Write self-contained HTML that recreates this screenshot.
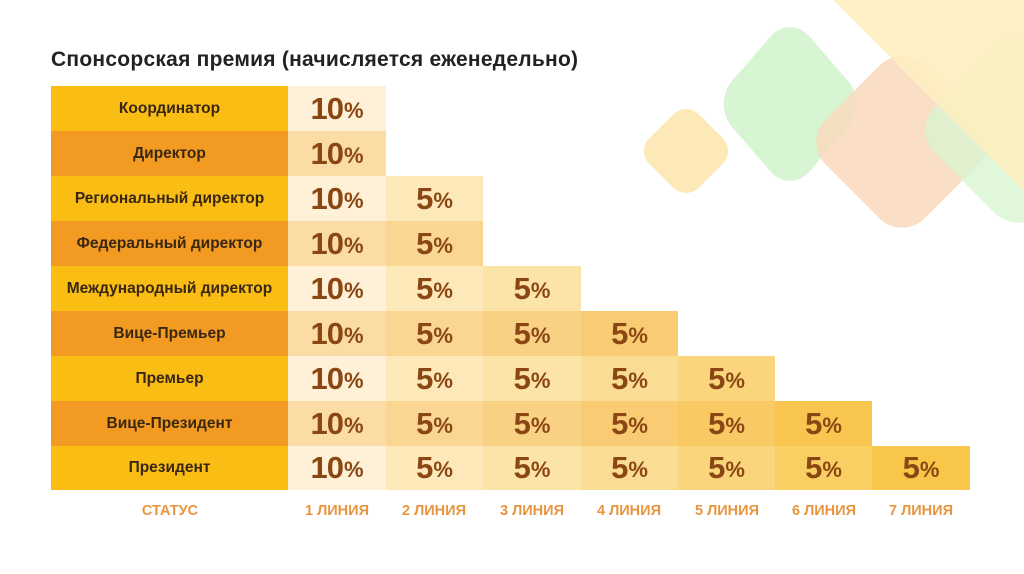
<!DOCTYPE html>
<html><head><meta charset="utf-8">
<style>
html,body{margin:0;padding:0;}
body{width:1024px;height:574px;position:relative;overflow:hidden;background:#fff;font-family:"Liberation Sans","Noto Sans CJK SC",sans-serif;}
.bg{position:absolute;left:0;top:0;}
.title{position:absolute;left:51px;top:48px;font-size:21px;font-weight:bold;color:#222;white-space:nowrap;letter-spacing:0.25px;}
.lab{position:absolute;left:51px;width:237px;display:flex;align-items:center;justify-content:center;font-size:15.5px;font-weight:bold;color:#3a2712;white-space:nowrap;}
.cell{position:absolute;display:flex;align-items:center;justify-content:center;color:#8a4613;font-weight:bold;white-space:nowrap;}
.cell .n{font-size:31px;letter-spacing:-1px;}
.cell .p{font-size:22px;margin-left:1px;margin-top:4px;}
.ft{position:absolute;top:503px;font-size:14.5px;font-weight:bold;color:#e9953f;text-align:center;white-space:nowrap;}
</style></head><body>
<svg class="bg" width="1024" height="574" viewBox="0 0 1024 574">
  <rect x="-35" y="-35" width="70" height="70" rx="18" fill="#fde6b0" opacity="0.9" transform="translate(686,151) rotate(45)"/>
  <rect x="-55" y="-55" width="110" height="110" rx="28" fill="#d7f4d3" transform="translate(790,104) scale(1,1.16) rotate(45)"/>
  <rect x="-70" y="-70" width="140" height="140" rx="32" fill="#f9d9bc" opacity="0.85" transform="translate(902,142) rotate(45)"/>
  <rect x="-75" y="-75" width="150" height="150" rx="32" fill="#d7f4d0" opacity="0.75" transform="translate(1018,130) rotate(45)"/>
  <rect x="-217" y="-217" width="434" height="434" rx="40" fill="#fdeebf" opacity="0.9" transform="translate(1100,-40) rotate(45)"/>
</svg>
<div class="title">Спонсорская премия (начисляется еженедельно)</div>
<div class="ft" style="left:120px;width:100px;">СТАТУС</div>
<div class="ft" style="left:288px;width:98px;">1 ЛИНИЯ</div>
<div class="ft" style="left:385px;width:98px;">2 ЛИНИЯ</div>
<div class="ft" style="left:483px;width:98px;">3 ЛИНИЯ</div>
<div class="ft" style="left:580px;width:98px;">4 ЛИНИЯ</div>
<div class="ft" style="left:678px;width:98px;">5 ЛИНИЯ</div>
<div class="ft" style="left:775px;width:98px;">6 ЛИНИЯ</div>
<div class="ft" style="left:872px;width:98px;">7 ЛИНИЯ</div>

<div class="lab" style="top:86px;height:45px;background:#f9bd14;">Координатор</div>
<div class="lab" style="top:131px;height:45px;background:#f29a22;">Директор</div>
<div class="lab" style="top:176px;height:45px;background:#f9bd14;">Региональный директор</div>
<div class="lab" style="top:221px;height:45px;background:#f29a22;">Федеральный директор</div>
<div class="lab" style="top:266px;height:45px;background:#f9bd14;">Международный директор</div>
<div class="lab" style="top:311px;height:45px;background:#f29a22;">Вице-Премьер</div>
<div class="lab" style="top:356px;height:45px;background:#f9bd14;">Премьер</div>
<div class="lab" style="top:401px;height:45px;background:#f29a22;">Вице-Президент</div>
<div class="lab" style="top:446px;height:44px;background:#f9bd14;">Президент</div>

<div class="cell" style="top:86px;height:45px;left:288px;width:98px;background:#fef1d7;"><span class="n">10</span><span class="p">%</span></div>
<div class="cell" style="top:131px;height:45px;left:288px;width:98px;background:#fbdca4;"><span class="n">10</span><span class="p">%</span></div>
<div class="cell" style="top:176px;height:45px;left:288px;width:98px;background:#fef1d7;"><span class="n">10</span><span class="p">%</span></div>
<div class="cell" style="top:176px;height:45px;left:386px;width:97px;background:#fde8ba;"><span class="n">5</span><span class="p">%</span></div>
<div class="cell" style="top:221px;height:45px;left:288px;width:98px;background:#fbdca4;"><span class="n">10</span><span class="p">%</span></div>
<div class="cell" style="top:221px;height:45px;left:386px;width:97px;background:#fad692;"><span class="n">5</span><span class="p">%</span></div>
<div class="cell" style="top:266px;height:45px;left:288px;width:98px;background:#fef1d7;"><span class="n">10</span><span class="p">%</span></div>
<div class="cell" style="top:266px;height:45px;left:386px;width:97px;background:#fde8ba;"><span class="n">5</span><span class="p">%</span></div>
<div class="cell" style="top:266px;height:45px;left:483px;width:98px;background:#fce3a8;"><span class="n">5</span><span class="p">%</span></div>
<div class="cell" style="top:311px;height:45px;left:288px;width:98px;background:#fbdca4;"><span class="n">10</span><span class="p">%</span></div>
<div class="cell" style="top:311px;height:45px;left:386px;width:97px;background:#fad692;"><span class="n">5</span><span class="p">%</span></div>
<div class="cell" style="top:311px;height:45px;left:483px;width:98px;background:#f9d184;"><span class="n">5</span><span class="p">%</span></div>
<div class="cell" style="top:311px;height:45px;left:581px;width:97px;background:#f9cc74;"><span class="n">5</span><span class="p">%</span></div>
<div class="cell" style="top:356px;height:45px;left:288px;width:98px;background:#fef1d7;"><span class="n">10</span><span class="p">%</span></div>
<div class="cell" style="top:356px;height:45px;left:386px;width:97px;background:#fde8ba;"><span class="n">5</span><span class="p">%</span></div>
<div class="cell" style="top:356px;height:45px;left:483px;width:98px;background:#fce3a8;"><span class="n">5</span><span class="p">%</span></div>
<div class="cell" style="top:356px;height:45px;left:581px;width:97px;background:#fbdc93;"><span class="n">5</span><span class="p">%</span></div>
<div class="cell" style="top:356px;height:45px;left:678px;width:97px;background:#fad57c;"><span class="n">5</span><span class="p">%</span></div>
<div class="cell" style="top:401px;height:45px;left:288px;width:98px;background:#fbdca4;"><span class="n">10</span><span class="p">%</span></div>
<div class="cell" style="top:401px;height:45px;left:386px;width:97px;background:#fad692;"><span class="n">5</span><span class="p">%</span></div>
<div class="cell" style="top:401px;height:45px;left:483px;width:98px;background:#f9d184;"><span class="n">5</span><span class="p">%</span></div>
<div class="cell" style="top:401px;height:45px;left:581px;width:97px;background:#f9cc74;"><span class="n">5</span><span class="p">%</span></div>
<div class="cell" style="top:401px;height:45px;left:678px;width:97px;background:#f9ca64;"><span class="n">5</span><span class="p">%</span></div>
<div class="cell" style="top:401px;height:45px;left:775px;width:97px;background:#f8c650;"><span class="n">5</span><span class="p">%</span></div>
<div class="cell" style="top:446px;height:44px;left:288px;width:98px;background:#fef1d7;"><span class="n">10</span><span class="p">%</span></div>
<div class="cell" style="top:446px;height:44px;left:386px;width:97px;background:#fde8ba;"><span class="n">5</span><span class="p">%</span></div>
<div class="cell" style="top:446px;height:44px;left:483px;width:98px;background:#fce3a8;"><span class="n">5</span><span class="p">%</span></div>
<div class="cell" style="top:446px;height:44px;left:581px;width:97px;background:#fbdc93;"><span class="n">5</span><span class="p">%</span></div>
<div class="cell" style="top:446px;height:44px;left:678px;width:97px;background:#fad57c;"><span class="n">5</span><span class="p">%</span></div>
<div class="cell" style="top:446px;height:44px;left:775px;width:97px;background:#f9cf64;"><span class="n">5</span><span class="p">%</span></div>
<div class="cell" style="top:446px;height:44px;left:872px;width:98px;background:#f8c74a;"><span class="n">5</span><span class="p">%</span></div>
</body></html>
